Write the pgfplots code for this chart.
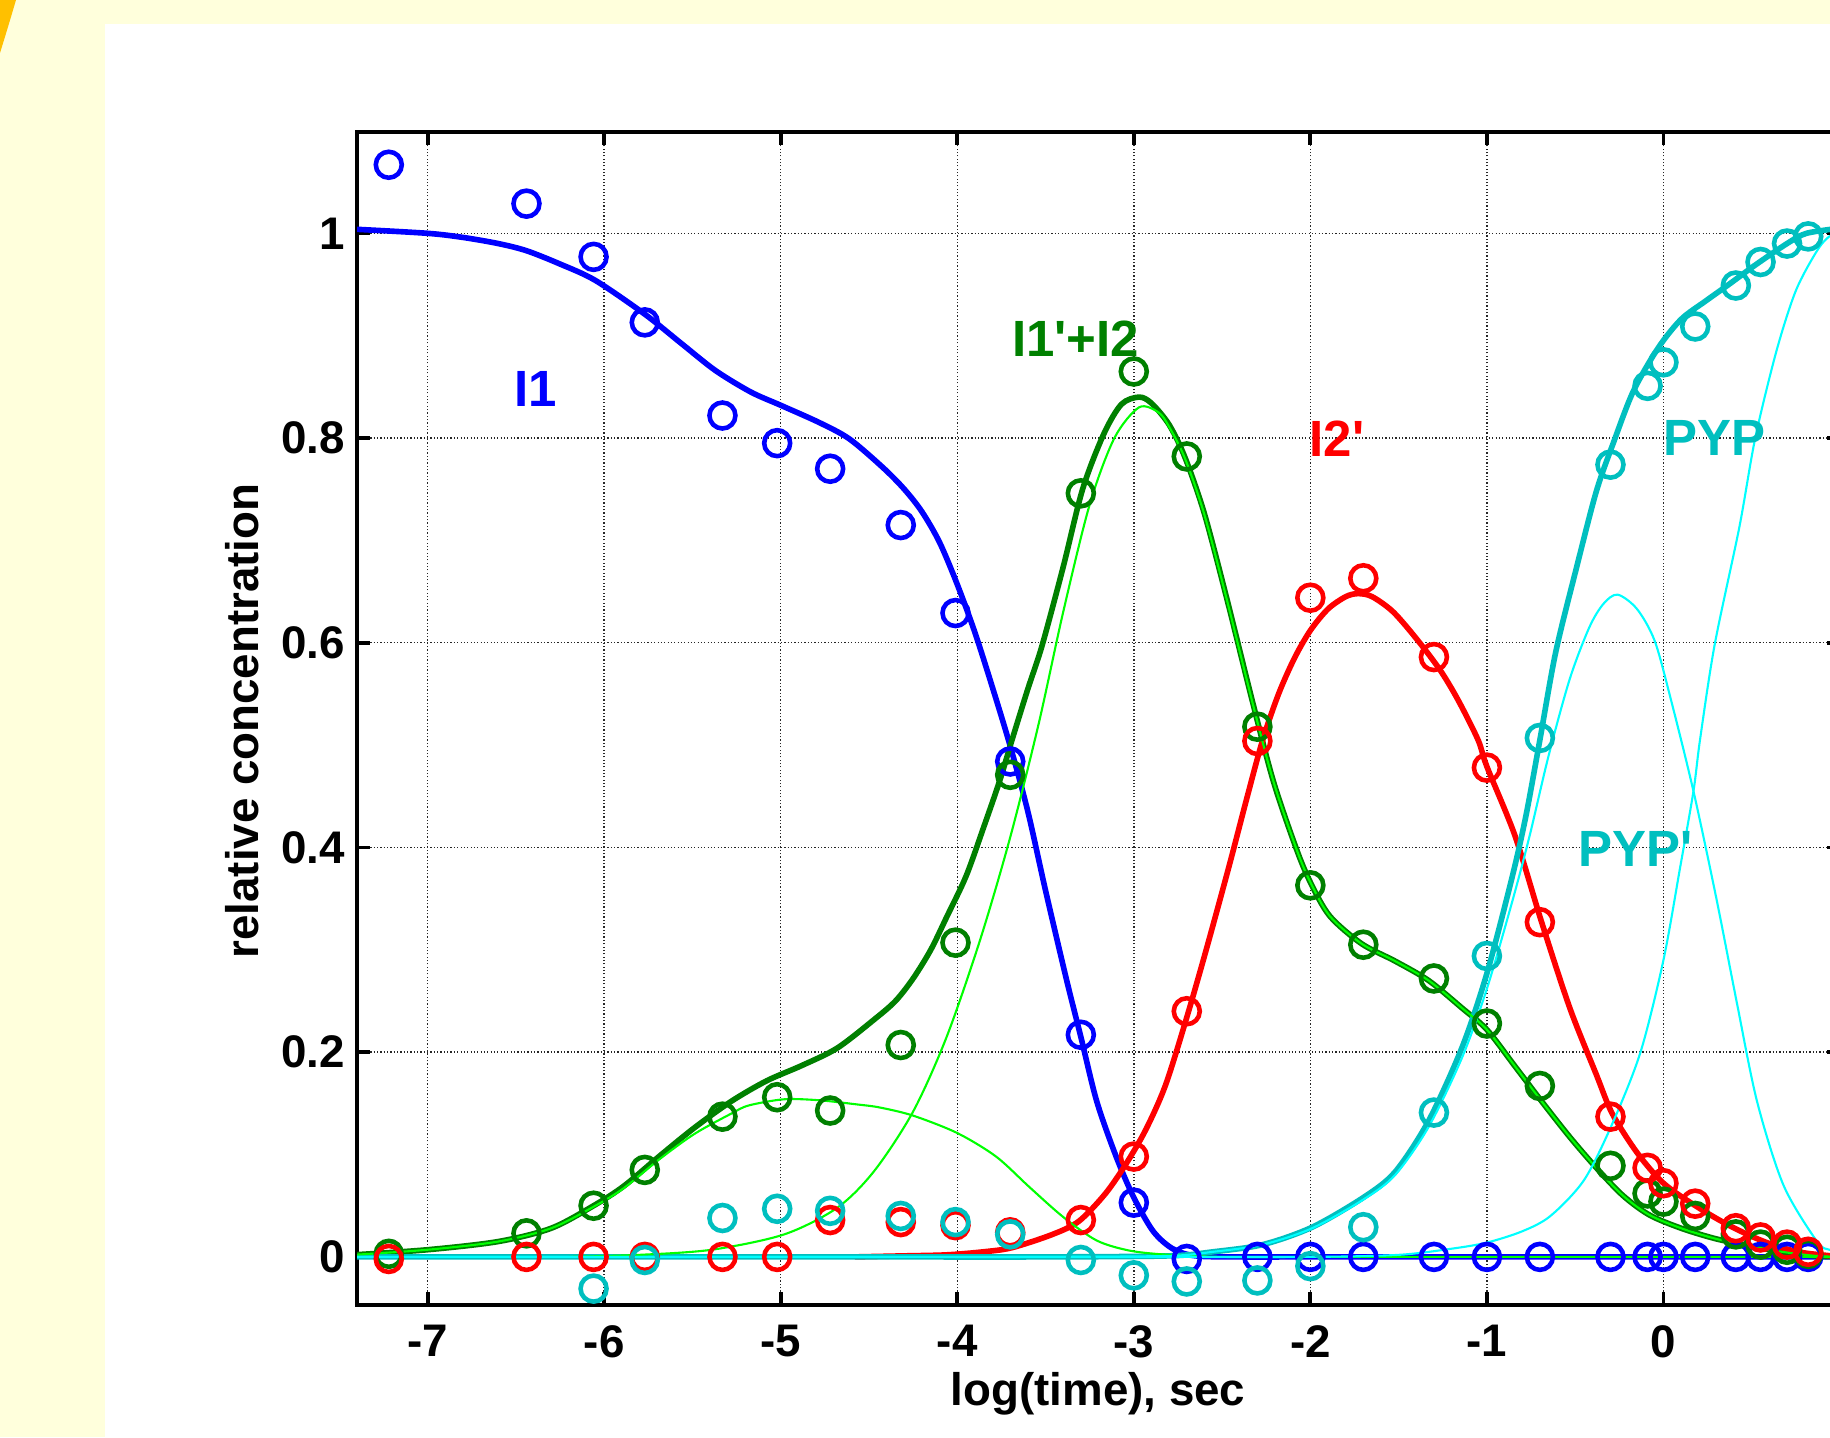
\documentclass[border=0pt]{standalone}
\usepackage{fontspec}
\setmainfont{Liberation Sans}
\usepackage{pgfplots}
\pgfplotsset{compat=1.18}
\definecolor{bgyellow}{RGB}{255,255,220}
\definecolor{orng}{RGB}{255,192,0}
\definecolor{mgreen}{RGB}{0,128,0}
\definecolor{mcyan}{RGB}{0,191,191}
\definecolor{lgreen}{RGB}{0,255,0}
\definecolor{lcyan}{RGB}{0,255,255}
\begin{document}
\begin{tikzpicture}
\path[use as bounding box] (0,0) rectangle (183mm,143.7mm);
\clip (0,0) rectangle (183mm,143.7mm);
\fill[bgyellow] (0,0) rectangle (183mm,143.7mm);
\fill[white] (10.5mm,0) rectangle (183mm,141.3mm);
\fill[orng] (0,143.7mm) -- (1.6mm,143.7mm) .. controls (1.1mm,142.0mm) and (0.5mm,140.0mm) .. (0,138.4mm) -- cycle;
\begin{axis}[
  at={(35.7mm,13.2mm)}, anchor=south west,
  scale only axis, width=148.3mm, height=117.3mm,
  xmin=-7.4, xmax=1, ymin=-0.047, ymax=1.099,
  axis line style={line width=1.1pt},
  tick style={line width=1.1pt, black},
  major tick length=1.3mm,
  tick align=inside,
  xtick={-7,-6,-5,-4,-3,-2,-1,0},
  xticklabels={-7,-6,-5,-4,-3,-2,-1,0},
  ytick={0,0.2,0.4,0.6,0.8,1},
  yticklabels={0,0.2,0.4,0.6,0.8,1},
  grid=major,
  major grid style={line width=0.4pt, black!85, dash pattern=on 0.35pt off 0.6pt},
  ticklabel style={font=\bfseries\fontsize{13}{15}\selectfont},
  xticklabel style={yshift=-0.8mm},
  mark size=1.3mm,
]
% ---------- data circles ----------
\addplot[only marks, mark=o, blue, mark options={line width=1.3pt}] coordinates {
(-7.22,1.067) (-6.44,1.029) (-6.06,0.977) (-5.77,0.913) (-5.33,0.822) (-5.02,0.795)
(-4.72,0.770) (-4.32,0.715) (-4.01,0.629) (-3.70,0.484) (-3.30,0.217) (-3.00,0.053)
(-2.70,-0.002) (-2.30,0) (-2.00,0) (-1.70,0) (-1.30,0) (-1.00,0) (-0.70,0) (-0.30,0)
(-0.09,0) (0.00,0) (0.18,0) (0.41,0) (0.55,0) (0.70,0) (0.82,0)};
\addplot[only marks, mark=o, mgreen, mark options={line width=1.3pt}] coordinates {
(-7.22,0.003) (-6.44,0.023) (-6.06,0.050) (-5.77,0.085) (-5.33,0.137) (-5.02,0.156)
(-4.72,0.143) (-4.32,0.207) (-4.01,0.307) (-3.70,0.471) (-3.30,0.746) (-3.00,0.865)
(-2.70,0.782) (-2.30,0.518) (-2.00,0.363) (-1.70,0.305) (-1.30,0.272) (-1.00,0.228)
(-0.70,0.167) (-0.30,0.089) (-0.09,0.062) (0.00,0.054) (0.18,0.040) (0.41,0.022)
(0.55,0.012) (0.70,0.007) (0.82,0.003)};
\addplot[only marks, mark=o, red, mark options={line width=1.3pt}] coordinates {
(-7.22,-0.002) (-6.44,0) (-6.06,0) (-5.77,0) (-5.33,0) (-5.02,0)
(-4.72,0.036) (-4.32,0.034) (-4.01,0.031) (-3.70,0.024) (-3.30,0.036) (-3.00,0.098)
(-2.70,0.240) (-2.30,0.504) (-2.00,0.644) (-1.70,0.663) (-1.30,0.586) (-1.00,0.478)
(-0.70,0.327) (-0.30,0.137) (-0.09,0.087) (0.00,0.072) (0.18,0.052) (0.41,0.028)
(0.55,0.019) (0.70,0.012) (0.82,0.005)};
\addplot[only marks, mark=o, mcyan, mark options={line width=1.3pt}] coordinates {
(-6.06,-0.031) (-5.77,-0.003) (-5.33,0.038) (-5.02,0.047) (-4.72,0.045) (-4.32,0.040)
(-4.01,0.034) (-3.70,0.022) (-3.30,-0.003) (-3.00,-0.018) (-2.70,-0.024) (-2.30,-0.023)
(-2.00,-0.009) (-1.70,0.029) (-1.30,0.141) (-1.00,0.294) (-0.70,0.507) (-0.30,0.774)
(-0.09,0.851) (0.00,0.874) (0.18,0.909) (0.41,0.949) (0.55,0.972) (0.70,0.990) (0.82,0.997)};
% ---------- thick fitted curves ----------
\addplot[blue, line width=1.6pt, smooth, no marks] coordinates {
(-7.41,1.004) (-7.0,1.0) (-6.8,0.996) (-6.6,0.990) (-6.44,0.983) (-6.25,0.970) (-6.05,0.954)
(-5.77,0.921) (-5.56,0.892) (-5.37,0.866) (-5.17,0.845) (-5.0,0.832) (-4.78,0.815)
(-4.61,0.799) (-4.42,0.771) (-4.30,0.750) (-4.20,0.728) (-4.10,0.698) (-4.00,0.657)
(-3.90,0.610) (-3.80,0.556) (-3.70,0.499) (-3.60,0.435) (-3.50,0.358) (-3.38,0.270)
(-3.30,0.215) (-3.21,0.152) (-3.10,0.098) (-3.00,0.058) (-2.89,0.025) (-2.78,0.008)
(-2.65,0.001) (-2.4,0) (-2.0,0) (-1.5,0) (-1.0,0) (-0.5,0) (0,0) (0.5,0) (1.0,0)};
\addplot[mgreen, line width=1.6pt, smooth, no marks] coordinates {
(-7.42,0.002) (-7.0,0.007) (-6.6,0.015) (-6.3,0.028) (-6.06,0.050) (-5.89,0.069)
(-5.69,0.098) (-5.49,0.126) (-5.28,0.152) (-5.08,0.172) (-4.88,0.187) (-4.68,0.204)
(-4.47,0.232) (-4.35,0.250) (-4.25,0.272) (-4.15,0.300) (-4.06,0.332) (-3.95,0.372)
(-3.85,0.420) (-3.76,0.465) (-3.69,0.505) (-3.60,0.555) (-3.52,0.597)
(-3.40,0.674) (-3.29,0.750) (-3.17,0.804) (-3.07,0.833) (-2.97,0.840)
(-2.90,0.834) (-2.80,0.813) (-2.71,0.781) (-2.60,0.726) (-2.47,0.641) (-2.33,0.544)
(-2.21,0.465) (-2.08,0.399) (-2.0,0.366) (-1.89,0.333) (-1.71,0.306) (-1.52,0.289)
(-1.33,0.270) (-1.14,0.243) (-1.0,0.222) (-0.84,0.186) (-0.69,0.152) (-0.53,0.117)
(-0.38,0.087) (-0.23,0.060) (-0.08,0.041) (0.1,0.028) (0.29,0.018) (0.48,0.011)
(0.67,0.005) (0.86,0.001) (1.0,0)};
\addplot[red, line width=1.6pt, smooth, no marks] coordinates {
(-4.58,0) (-4.3,0.001) (-4.06,0.002) (-3.85,0.005) (-3.69,0.009) (-3.46,0.022)
(-3.31,0.035) (-3.16,0.062) (-3.04,0.092) (-2.93,0.125) (-2.82,0.168) (-2.70,0.234)
(-2.59,0.300) (-2.46,0.382) (-2.36,0.448) (-2.27,0.505) (-2.18,0.550) (-2.09,0.585)
(-2.0,0.612) (-1.9,0.633) (-1.8,0.645) (-1.73,0.648) (-1.65,0.645) (-1.53,0.630)
(-1.39,0.602) (-1.26,0.572) (-1.16,0.543) (-1.05,0.505) (-1.0,0.479) (-0.84,0.411)
(-0.69,0.327) (-0.53,0.243) (-0.38,0.178) (-0.29,0.140) (-0.15,0.102) (0,0.072)
(0.19,0.049) (0.38,0.030) (0.57,0.015) (0.76,0.005) (0.95,0.001) (1.0,0)};
\addplot[mcyan, line width=1.6pt, smooth, no marks] coordinates {
(-7.42,0) (-6.5,0) (-5.5,0) (-4.5,0) (-3.5,0) (-2.8,0.001) (-2.55,0.005) (-2.27,0.012)
(-1.99,0.029) (-1.70,0.058) (-1.52,0.083) (-1.33,0.133) (-1.14,0.205) (-1.0,0.277)
(-0.86,0.369) (-0.78,0.43) (-0.70,0.505) (-0.61,0.591) (-0.49,0.675) (-0.38,0.748)
(-0.28,0.797) (-0.17,0.846) (-0.03,0.888) (0.10,0.916) (0.24,0.934) (0.37,0.950)
(0.52,0.969) (0.70,0.990) (0.81,1.0) (1.0,1.005)};
% ---------- thin component curves ----------
\addplot[lgreen, line width=0.6pt, smooth, no marks] coordinates {
(-7.42,0.002) (-7.0,0.007) (-6.6,0.015) (-6.3,0.028) (-6.06,0.049) (-5.89,0.067)
(-5.69,0.095) (-5.49,0.120) (-5.28,0.140) (-5.18,0.148) (-4.98,0.154) (-4.78,0.153)
(-4.57,0.149) (-4.44,0.146) (-4.25,0.138) (-4.0,0.121) (-3.78,0.098) (-3.59,0.068)
(-3.40,0.039) (-3.21,0.016) (-3.02,0.006) (-2.8,0.002) (-2.5,0) (-2.0,0) (-1.5,0)
(-1.0,0) (-0.5,0) (0,0) (0.5,0) (1.0,0)};
\addplot[lgreen, line width=0.6pt, smooth, no marks] coordinates {
(-6.2,0) (-5.8,0.002) (-5.39,0.007) (-4.98,0.022) (-4.68,0.048) (-4.47,0.084)
(-4.25,0.142) (-4.06,0.215) (-3.87,0.310) (-3.70,0.410) (-3.54,0.520) (-3.40,0.630)
(-3.25,0.735) (-3.11,0.800) (-2.97,0.830) (-2.86,0.825) (-2.80,0.811) (-2.71,0.780)
(-2.60,0.725) (-2.47,0.640) (-2.33,0.543) (-2.21,0.465) (-2.08,0.399) (-2.0,0.366)
(-1.89,0.333) (-1.71,0.306) (-1.52,0.289) (-1.33,0.270) (-1.14,0.243) (-1.0,0.222)
(-0.84,0.186) (-0.69,0.152) (-0.53,0.117) (-0.38,0.087) (-0.23,0.060) (-0.08,0.041)
(0.1,0.028) (0.29,0.018) (0.48,0.011) (0.67,0.005) (0.86,0.001) (1.0,0)};
\addplot[lcyan, line width=0.6pt, smooth, no marks] coordinates {
(-7.42,0) (-6.5,0) (-5.5,0) (-4.5,0) (-3.5,0) (-2.8,0.001) (-2.55,0.005) (-2.27,0.012)
(-1.99,0.028) (-1.70,0.056) (-1.52,0.080) (-1.33,0.127) (-1.14,0.195) (-1.0,0.262)
(-0.86,0.345) (-0.76,0.410) (-0.65,0.490) (-0.53,0.565) (-0.42,0.615) (-0.34,0.638)
(-0.26,0.647) (-0.15,0.633) (-0.05,0.602) (0.04,0.546) (0.17,0.455) (0.30,0.350)
(0.415,0.249) (0.53,0.152) (0.68,0.070) (0.87,0.015) (0.94,0.007) (1.0,0.004)};
\addplot[lcyan, line width=0.6pt, smooth, no marks] coordinates {
(-7.42,0) (-6.0,0) (-4.5,0) (-3.0,0) (-2.0,0) (-1.5,0.002) (-1.2,0.008) (-1.0,0.014)
(-0.8,0.025) (-0.64,0.040) (-0.45,0.075) (-0.29,0.130) (-0.13,0.200) (0,0.290)
(0.094,0.380) (0.17,0.455) (0.207,0.505) (0.29,0.598) (0.43,0.713) (0.52,0.800)
(0.64,0.885) (0.75,0.944) (0.87,0.983) (0.94,0.997) (1.0,1.0)};
% ---------- annotations ----------
\node[text=blue, font=\bfseries\fontsize{14.5}{16}\selectfont] at (axis cs:-6.39,0.848) {I1};
\node[text=mgreen, font=\bfseries\fontsize{14.5}{16}\selectfont] at (axis cs:-3.33,0.897) {I1\textquotesingle+I2};
\node[text=red, font=\bfseries\fontsize{14.5}{16}\selectfont] at (axis cs:-1.85,0.799) {I2\textquotesingle};
\node[text=mcyan, font=\bfseries\fontsize{14.5}{16}\selectfont] at (axis cs:0.29,0.80) {PYP};
\node[text=mcyan, font=\bfseries\fontsize{14.5}{16}\selectfont] at (axis cs:-0.16,0.399) {PYP\textquotesingle};
\end{axis}
\node[font=\bfseries\fontsize{13}{15}\selectfont, anchor=base] at (109.8mm,3.2mm) {log(time), sec};
\node[font=\bfseries\fontsize{13}{15}\selectfont, rotate=90] at (24.2mm,71.6mm) {relative concentration};
\end{tikzpicture}
\end{document}
